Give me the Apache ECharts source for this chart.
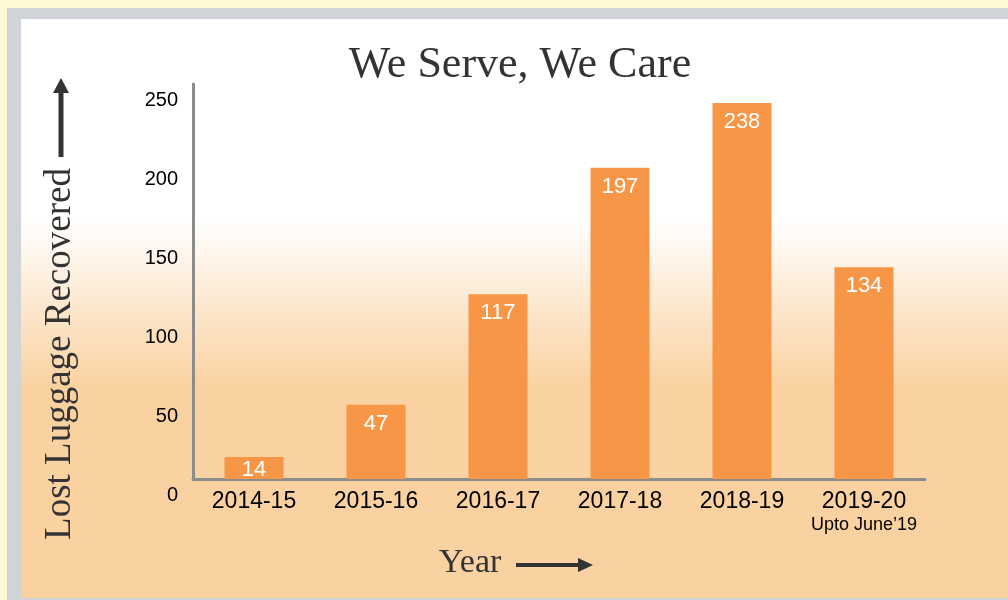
<!DOCTYPE html>
<html>
<head>
<meta charset="utf-8">
<script src="https://cdn.jsdelivr.net/npm/echarts@6/dist/echarts.min.js"></script>
<style>
html,body{margin:0;padding:0;width:1008px;height:600px;overflow:hidden;background:#FFF9D6;}
#frame{position:absolute;left:7px;top:8px;width:1001px;height:592px;background:#D0D4D8;}
#panel{position:absolute;left:21px;top:19px;width:987px;height:579px;
background:linear-gradient(to bottom,#ffffff 0px,#ffffff 200px,#FAD1A0 370px,#FAD1A0 579px);}
#chart{position:absolute;left:0;top:0;width:1008px;height:600px;}
</style>
</head>
<body>
<div id="frame"></div>
<div id="panel"></div>
<div id="chart"></div>
<script>
const categories = ['2014-15','2015-16','2016-17','2017-18','2018-19','2019-20'];
const categoryNotes = ['','','','','','Upto June\u201919'];
const recovered = [14, 47, 117, 197, 238, 134];
const yTicks = [0, 50, 100, 150, 200, 250];
const titleText = 'We Serve, We Care';
const yTitle = 'Lost Luggage Recovered';
const xTitle = 'Year';

const chart = echarts.init(document.getElementById('chart'), null, {renderer:'canvas'});
const dark = '#333333';
const serif = '"Liberation Serif", "Times New Roman", serif';
const sans = '"Liberation Sans", Arial, sans-serif';

chart.setOption({
  backgroundColor: 'transparent',
  animation: false,
  title: {
    text: titleText, left: 515, top: 38, textAlign: 'center',
    textStyle: {fontFamily: serif, fontSize: 44, fontWeight: 'normal', color: dark}
  },
  grid: {left: 193, right: 83, top: 84, bottom: 121, containLabel: false},
  xAxis: {
    type: 'category', data: categories,
    axisLine: {lineStyle: {color: '#8C8C8C', width: 3}},
    axisTick: {show: false},
    axisLabel: {
      margin: 10, color: '#000',
      formatter: function (v, i) {
        const note = categoryNotes[categories.indexOf(v)];
        return note ? '{m|' + v + '}\n{s|' + note + '}' : '{m|' + v + '}';
      },
      rich: {
        m: {fontFamily: sans, fontSize: 23, color: '#000', lineHeight: 26},
        s: {fontFamily: sans, fontSize: 18, color: '#000', lineHeight: 20}
      }
    }
  },
  yAxis: {
    type: 'value', min: yTicks[0], max: yTicks[yTicks.length - 1], interval: 50,
    axisLine: {show: true, lineStyle: {color: '#8C8C8C', width: 3}},
    axisTick: {show: false},
    splitLine: {show: false},
    axisLabel: {
      margin: 15, color: '#000', fontFamily: sans, fontSize: 20,
      verticalAlign: 'top', padding: [6, 0, 0, 0]
    }
  },
  series: [{
    type: 'bar',
    data: recovered.map(function (v) {
      return v < 20 ? {value: v, label: {distance: 2}} : v;
    }),
    barWidth: 59,
    itemStyle: {color: '#F79646'},
    label: {
      show: true, position: 'insideTop', distance: 8,
      color: '#fff', fontFamily: sans, fontSize: 22
    }
  }],
  graphic: [
    {type: 'text', x: 60, y: 354, rotation: Math.PI / 2, silent: true,
     style: {text: yTitle, fontFamily: serif, fontSize: 37, fill: dark,
             textAlign: 'center', textVerticalAlign: 'middle'}},
    {type: 'line', silent: true,
     shape: {x1: 61, y1: 157, x2: 61, y2: 90},
     style: {stroke: dark, lineWidth: 5}},
    {type: 'polygon', silent: true,
     shape: {points: [[53, 93], [69, 93], [61, 78]]},
     style: {fill: dark}},
    {type: 'text', x: 470, y: 563, silent: true,
     style: {text: xTitle, fontFamily: serif, fontSize: 34, fill: dark,
             textAlign: 'center', textVerticalAlign: 'middle'}},
    {type: 'line', silent: true,
     shape: {x1: 516, y1: 565, x2: 581, y2: 565},
     style: {stroke: dark, lineWidth: 4}},
    {type: 'polygon', silent: true,
     shape: {points: [[578, 558], [578, 572], [593, 565]]},
     style: {fill: dark}}
  ]
});
</script>
</body>
</html>
